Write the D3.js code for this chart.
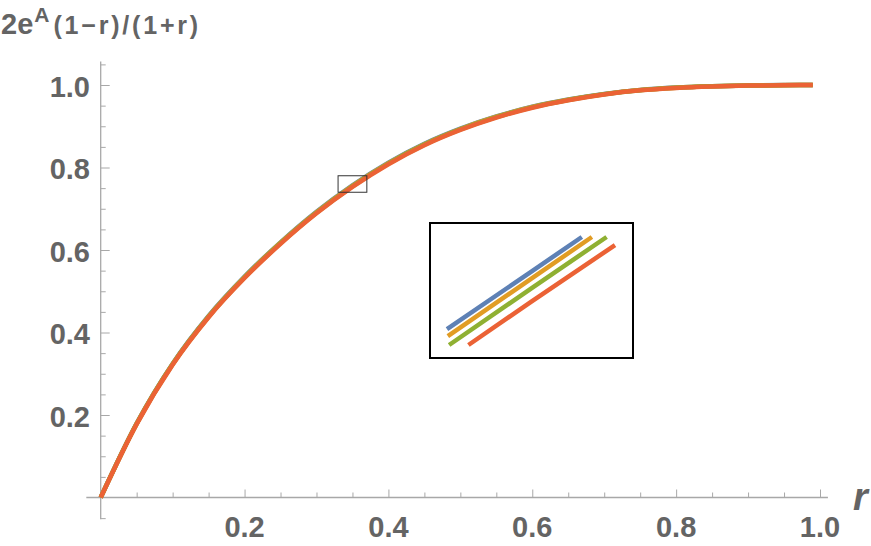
<!DOCTYPE html>
<html>
<head>
<meta charset="utf-8">
<script src="https://cdn.jsdelivr.net/npm/d3@7"></script>
<style>
  body { margin: 0; background: #fff; }
  text { font-family: "Liberation Sans", Arial, sans-serif; font-weight: bold; fill: #646464; }
</style>
</head>
<body>
<svg id="chart" width="871" height="546"></svg>
<script>
// values
const rValues = [0, 0.05, 0.1, 0.15, 0.2, 0.25, 0.3, 0.35, 0.4, 0.45, 0.5, 0.55, 0.6, 0.65, 0.7, 0.75, 0.8, 0.85, 0.9, 0.95, 0.99];
const blueY   = [0, 0.1796, 0.3244, 0.4400, 0.5354, 0.6186, 0.6927, 0.7567, 0.8116, 0.8574, 0.8941, 0.9237, 0.9472, 0.9647, 0.9783, 0.9880, 0.9937, 0.9969, 0.9987, 0.9997, 1.0];
const orangeY = [0, 0.1792, 0.3238, 0.4392, 0.5345, 0.6176, 0.6917, 0.7557, 0.8106, 0.8565, 0.8933, 0.9230, 0.9466, 0.9642, 0.9779, 0.9877, 0.9935, 0.9968, 0.9987, 0.9997, 1.0];
const greenY  = [0, 0.1787, 0.3230, 0.4382, 0.5334, 0.6165, 0.6905, 0.7545, 0.8095, 0.8554, 0.8923, 0.9221, 0.9459, 0.9637, 0.9775, 0.9874, 0.9933, 0.9967, 0.9986, 0.9996, 1.0];
const redY    = [0, 0.1780, 0.3220, 0.4370, 0.5320, 0.6150, 0.6890, 0.7530, 0.8080, 0.8540, 0.8910, 0.9210, 0.9450, 0.9630, 0.9770, 0.9870, 0.9930, 0.9965, 0.9985, 0.9996, 1.0];

// zoomed region and what the inset shows of it
const zoomR = [0.33, 0.37];
const zoomY = [0.74, 0.78];
const insetBlue   = [[0.3300, 0.7459], [0.3500, 0.7671], [0.3621, 0.7800]];
const insetOrange = [[0.3302, 0.7433], [0.3500, 0.7645], [0.3645, 0.7800]];
const insetGreen  = [[0.3305, 0.7400], [0.3500, 0.7609], [0.3680, 0.7800]];
const insetRed    = [[0.3351, 0.7400], [0.3500, 0.7560], [0.3700, 0.7770]];

const xMajor = [0.2, 0.4, 0.6, 0.8, 1.0];
const xMinor = [0.05, 0.1, 0.15, 0.25, 0.3, 0.35, 0.45, 0.5, 0.55, 0.65, 0.7, 0.75, 0.85, 0.9, 0.95];
const yMajor = [0.2, 0.4, 0.6, 0.8, 1.0];
const yMinor = [-0.05, 0.05, 0.1, 0.15, 0.25, 0.3, 0.35, 0.45, 0.5, 0.55, 0.65, 0.7, 0.75, 0.85, 0.9, 0.95, 1.05];
const tickLabels = ["0.2", "0.4", "0.6", "0.8", "1.0"];

const colors = ["#5E81B5", "#E19C24", "#8FB032", "#EB6235"];
const axisColor = "#a8a8a8";

const svg = d3.select("#chart");

const xScale = d3.scaleLinear().domain([0, 1]).range([100.7, 820]);
const yScale = d3.scaleLinear().domain([0, 1]).range([497.5, 85]);

// axis lines
svg.append("line")
  .attr("x1", xScale(-0.02)).attr("x2", xScale(1.011))
  .attr("y1", yScale(0)).attr("y2", yScale(0))
  .attr("stroke", axisColor).attr("stroke-width", 1.3);
svg.append("line")
  .attr("x1", xScale(0)).attr("x2", xScale(0))
  .attr("y1", yScale(-0.053)).attr("y2", yScale(1.057))
  .attr("stroke", axisColor).attr("stroke-width", 1.3);

function ticks(axis, y, x) {
  const g = svg.append("g")
    .attr("transform", `translate(${x},${y})`)
    .call(axis);
  g.select(".domain").remove();
  g.selectAll("line").attr("stroke", axisColor).attr("stroke-width", 1);
}
ticks(d3.axisBottom(xScale).tickValues(xMajor).tickSize(-8).tickFormat(""), yScale(0), 0);
ticks(d3.axisBottom(xScale).tickValues(xMinor).tickSize(-5).tickFormat(""), yScale(0), 0);
ticks(d3.axisRight(yScale).tickValues(yMajor).tickSize(9).tickFormat(""), 0, xScale(0));
ticks(d3.axisRight(yScale).tickValues(yMinor).tickSize(5).tickFormat(""), 0, xScale(0));

// tick labels
svg.append("g").selectAll("text")
  .data(xMajor)
  .join("text")
  .attr("x", d => xScale(d))
  .attr("y", 537)
  .attr("text-anchor", "middle")
  .style("font-size", "29px")
  .text((d, i) => tickLabels[i]);

svg.append("g").selectAll("text")
  .data(yMajor)
  .join("text")
  .attr("x", 90)
  .attr("y", d => yScale(d) + 11.5)
  .attr("text-anchor", "end")
  .style("font-size", "29px")
  .text((d, i) => tickLabels[i]);

// axis titles
const title = svg.append("text").attr("x", 1).attr("y", 34);
title.append("tspan").style("font-size", "29px").text("2e");
title.append("tspan").style("font-size", "21px").attr("dy", -12).attr("dx", 1).text("A");
title.append("tspan").style("font-size", "25px").attr("dy", 12).attr("dx", 4)
  .style("letter-spacing", "2.8px").text("(1\u2212r)/(1+r)");

svg.append("text")
  .attr("x", 853).attr("y", 510)
  .style("font-size", "38px").style("font-style", "italic")
  .text("r");

// curves
const series = [blueY, orangeY, greenY, redY];
const line = d3.line()
  .x(d => xScale(d[0]))
  .y(d => yScale(d[1]))
  .curve(d3.curveMonotoneX);

svg.append("g").selectAll("path")
  .data(series)
  .join("path")
  .attr("d", s => line(rValues.map((r, i) => [r, s[i]])))
  .attr("fill", "none")
  .attr("stroke", (d, i) => colors[i])
  .attr("stroke-width", 4.5);

// zoom box marker
svg.append("rect")
  .attr("x", xScale(zoomR[0]))
  .attr("y", yScale(zoomY[1]))
  .attr("width", xScale(zoomR[1]) - xScale(zoomR[0]))
  .attr("height", yScale(zoomY[0]) - yScale(zoomY[1]))
  .attr("fill", "none")
  .attr("stroke", "#333")
  .attr("stroke-width", 1);

// inset
const inset = svg.append("g").attr("transform", "translate(430,223)");
inset.append("rect")
  .attr("x", 0).attr("y", 0)
  .attr("width", 203).attr("height", 135)
  .attr("fill", "#fff")
  .attr("stroke", "#000")
  .attr("stroke-width", 2);

const ix = d3.scaleLinear().domain(zoomR).range([17, 185]);
const iy = d3.scaleLinear().domain(zoomY).range([122, 14]);
const insetLine = d3.line().x(d => ix(d[0])).y(d => iy(d[1]));

inset.selectAll("path")
  .data([insetBlue, insetOrange, insetGreen, insetRed])
  .join("path")
  .attr("d", insetLine)
  .attr("fill", "none")
  .attr("stroke", (d, i) => colors[i])
  .attr("stroke-width", 4.5);
</script>
</body>
</html>
